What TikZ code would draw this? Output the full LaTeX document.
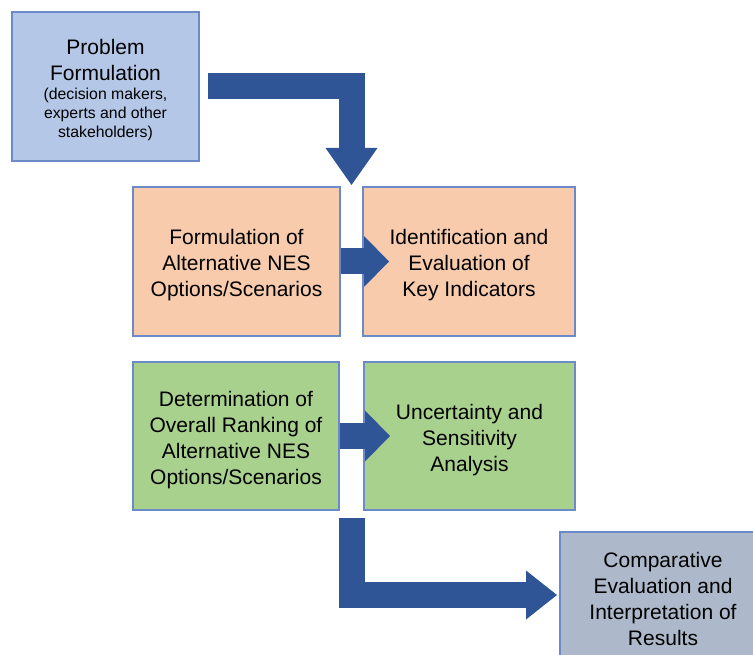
\documentclass[tikz,border=0pt]{standalone}
\usepackage{fontspec}
\setmainfont{Liberation Sans}
\usetikzlibrary{arrows.meta,calc}

\definecolor{probfill}{HTML}{B4C7E7}
\definecolor{optfill}{HTML}{F8CBAD}
\definecolor{rankfill}{HTML}{A9D18E}
\definecolor{resfill}{HTML}{ADB9CA}
\definecolor{boxline}{HTML}{6A8AC8}
\definecolor{flowblue}{HTML}{2F5597}

\newcommand{\boxfont}{\fontsize{15.75pt}{19.5pt}\selectfont}
\newcommand{\notefont}{\fontsize{11.85pt}{14.25pt}\selectfont}

\begin{document}
\begin{tikzpicture}[x=0.75pt, y=-0.75pt,
    stagebox/.style={draw=boxline, line width=1.5pt, inner sep=0pt,
      align=flush center, font=\boxfont, minimum height=111.75pt,
      execute at begin node={\rule{0pt}{#1}}},
    stagebox/.default=17pt,
    flow/.style={draw=flowblue, line width=19.5pt, line join=miter}]
  \useasboundingbox (0, 0) rectangle (753, 655);
  \clip (0, 0) rectangle (753, 655);

  % Problem formulation
  \node [stagebox=19pt, fill=probfill, text width=140.25pt] (prob)
    at (105.5, 86.5)
    {Problem\\Formulation\\[-5pt]{\notefont\begin{tabular}[t]{@{}c@{}}
      (decision makers,\\experts and other\\stakeholders)\end{tabular}}};

  % Options and indicators
  \node [stagebox, fill=optfill, text width=155.25pt] (opts) at (236.5, 261.5)
    {Formulation of\\Alternative NES\\Options/Scenarios};
  \node [stagebox, fill=optfill, text width=159pt] (keys) at (469, 261.5)
    {Identification and\\Evaluation of\\Key Indicators};

  % Ranking and uncertainty
  \node [stagebox, fill=rankfill, text width=154.5pt, minimum height=111pt]
    (rank) at (236, 436)
    {Determination of\\Overall Ranking of\\Alternative NES\\Options/Scenarios};
  \node [stagebox, fill=rankfill, text width=158.25pt, minimum height=111pt]
    (unc) at (469.5, 436) {Uncertainty and\\Sensitivity\\Analysis};

  % Results
  \node [stagebox, fill=resfill, text width=154.5pt, minimum height=95.25pt]
    (res) at (663, 595)
    {Comparative\\Evaluation and\\Interpretation of\\Results};

  % Block arrows
  \coordinate (gapTop) at ($(opts.north east)!0.5!(keys.north west)$);
  \coordinate (gapBot) at ($(rank.south east)!0.5!(unc.south west)$);
  \draw [flow, shorten <=6pt, shorten >=0.75pt,
    -{Triangle[length=27.75pt, width=39pt, line width=0pt]}]
        (prob.east) -| (gapTop);
  \draw [flow, shorten >=-20.25pt,
    -{Triangle[length=18.75pt, width=38.25pt, line width=0pt]}]
        (opts.east) -- (keys.west);
  \draw [flow, shorten >=-20.25pt,
    -{Triangle[length=18.75pt, width=38.25pt, line width=0pt]}]
        (rank.east) -- (unc.west);
  \draw [flow, shorten <=5.25pt, shorten >=1.5pt,
    -{Triangle[length=23.25pt, width=36.75pt, line width=0pt]}]
        (gapBot) |- (res.west);
\end{tikzpicture}
\end{document}
